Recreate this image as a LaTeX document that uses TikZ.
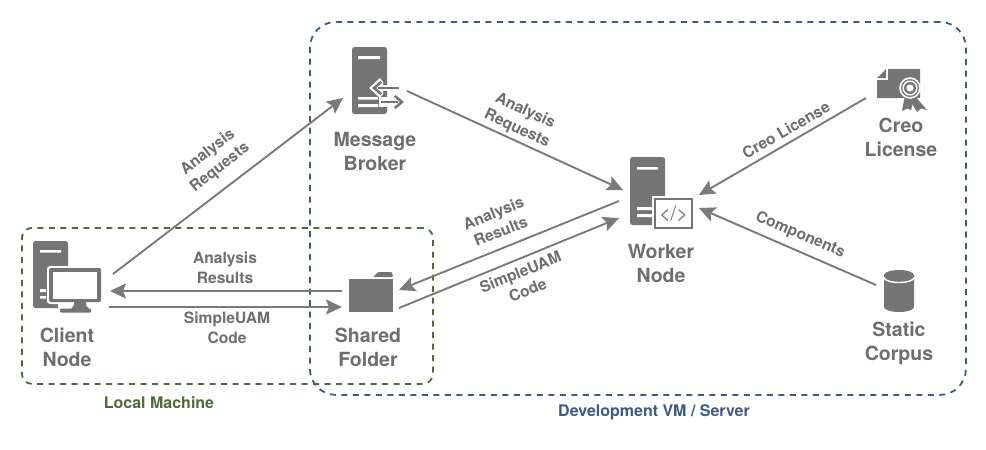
\documentclass[tikz,border=0pt]{standalone}
\usepackage{fontspec}
\setmainfont{TeX Gyre Heros}
\usetikzlibrary{arrows.meta,calc}
\definecolor{ig}{HTML}{757575}
\definecolor{lg}{HTML}{7A7A7A}
\definecolor{tg}{HTML}{6E6E6E}
\definecolor{gbox}{HTML}{4F6B3A}
\definecolor{bbox}{HTML}{3F5A80}
\tikzset{
 flow/.style={draw=lg,line width=1.9pt,-{Stealth[length=16pt,width=15pt,inset=3pt]}},
 iconbox/.style={inner sep=0pt,outer sep=0pt,draw=none},
 title/.style={text=tg,font=\fontsize{19.5}{24}\selectfont\bfseries,align=center,inner sep=0pt},
 edgelab/.style={text=tg,font=\fontsize{15.6}{19.5}\selectfont\bfseries,align=center,inner sep=0pt},
 grp/.style={line width=1.8pt,dash pattern=on 6pt off 5.5pt},
 grplab/.style={font=\fontsize{16}{19}\selectfont\bfseries,inner sep=0pt},
}
\begin{document}
\begin{tikzpicture}[x=1pt,y=-1pt]
\useasboundingbox[fill=white] (0,0) rectangle (986,450);
% groups
\node[grp,draw=gbox,rounded corners=10pt,minimum width=411pt,minimum height=156pt,inner sep=0pt,anchor=north west] (localbox) at (21,227) {};
\node[grp,draw=bbox,rounded corners=26pt,minimum width=656pt,minimum height=373pt,inner sep=0pt,anchor=north west] (devbox) at (309,21) {};
\node[grplab,text=gbox] (locallab) at (159,402.5) {Local Machine};
\node[grplab,text=bbox] (devlab) at (654,412.5) {Development VM / Server};
% anchors for icons
\node[iconbox,minimum width=68pt,minimum height=71pt] (client) at (67,276.5) {};
\node[iconbox,minimum width=52pt,minimum height=67pt] (broker) at (378,80.5) {};
\node[iconbox,minimum width=63pt,minimum height=72pt] (worker) at (661.5,193) {};
\node[iconbox,minimum width=50pt,minimum height=42pt] (license) at (902,90) {};
\node[iconbox,minimum width=44pt,minimum height=40pt] (folder) at (371,292) {};
\node[iconbox,minimum width=30pt,minimum height=42pt] (corpus) at (899,291) {};
% client icon
\fill[ig,rounded corners=2.5pt] (33,308) -- (33,241) -- (68,241) -- (68,308) -- cycle;
\fill[white] (40,250) rectangle (61,252.5) (40,289) rectangle (46,292) (40,296) rectangle (46,298.5);
\fill[white,rounded corners=3pt] (47,266) rectangle (103,304);
\fill[white] (58,303) rectangle (93,314);
\fill[ig,rounded corners=2pt] (49,268) rectangle (101,302);
\fill[white] (53,272) rectangle (97,299);
\fill[ig] (74,302) -- (86,302) -- (86,305) -- (89,309) -- (71,309) -- (74,305) -- cycle;
\fill[ig,rounded corners=1pt] (60,308.5) rectangle (91,312.5);
% broker icon
\fill[ig,rounded corners=2.5pt] (352,114) -- (352,47) -- (387,47) -- (387,114) -- cycle;
\fill[white] (358,56) rectangle (380,59) (358,97) rectangle (378,99.5) (358,104) rectangle (378,107);
\draw[white,line width=6pt] (377,88) -- (399,88);
\fill[white] (369,88) -- (380,78) -- (383,82) -- (383,94) -- (380,98) -- cycle;
\fill[white] (379,97) rectangle (398,107);
\fill[white] (396,93) -- (407,102) -- (396,111) -- cycle;
\draw[ig,line width=2pt] (378,88) -- (399,88);
\draw[ig,line width=2pt] (381,102) -- (398,102);
\fill[ig] (372,88) -- (380.5,81) -- (382,83) -- (376,88) -- (382,93) -- (380.5,95) -- cycle;
\fill[ig] (404,102) -- (395.5,95) -- (394,97) -- (400,102) -- (394,107) -- (395.5,109) -- cycle;
% worker icon
\fill[ig,rounded corners=2.5pt] (630,225) -- (630,157) -- (665,157) -- (665,225) -- cycle;
\fill[white] (637,167) rectangle (658,169.5) (637,207) rectangle (652,210) (637,214) rectangle (652,217);
\fill[white] (652,196) rectangle (695,231);
\node[iconbox,draw=ig,line width=2pt,fill=white,minimum width=37pt,minimum height=29pt,
 text=lg,font=\fontsize{20}{20}\selectfont] (code) at (673.5,213.5) {</>};
% license icon
\fill[ig] (888,69) -- (920,69) -- (920,98) -- (877,98) -- (877,80) -- (888,80) -- cycle;
\fill[ig] (877,78) -- (886,69) -- (886,78) -- cycle;
\fill[white] (898,98) -- (926,98) -- (931,113) -- (899,113) -- cycle;
\fill[ig] (905,95) -- (902,111) -- (907,108.5) -- (911,110) -- (915,96) -- cycle;
\fill[ig] (914,95) -- (927,110) -- (921,108.5) -- (917,112) -- (908,97) -- cycle;
\fill[white] (910,88) circle (10.8);
\fill[ig] (910,88) circle (9);
\fill[white] (910,88) circle (7.6);
\fill[ig] (910,88) circle (6);
\fill[white] (910,88) circle (3.6);
% folder icon
\fill[ig] (349,279) rectangle (393,312);
\fill[ig,rounded corners=1pt] (373,277) -- (378,272) -- (392,272) -- (393,277) -- cycle;
% cylinder icon
\fill[ig] (884,275) -- (884,307) arc[start angle=180,end angle=0,x radius=15,y radius=5] -- (914,275) arc[start angle=0,end angle=-180,x radius=15,y radius=5] -- cycle;
\draw[white,line width=1.4pt] (884,277.5) arc[start angle=180,end angle=0,x radius=15,y radius=5];
% titles
\node[title] (clientlab) at (67,347) {Client\\Node};
\node[title] (brokerlab) at (375,151) {Message\\Broker};
\node[title] (workerlab) at (661,263) {Worker\\Node};
\node[title] (licenselab) at (901,137) {Creo\\License};
\node[title] (folderlab) at (368,347) {Shared\\Folder};
\node[title] (corpuslab) at (899,343) {Static\\Corpus};
% connectors
\draw[flow] ([shift={(12,-2.5)}]client.east) -- ([shift={(-9,51)}]broker.west |- broker.north);
\draw[flow] ([shift={(3,10.5)}]broker.east) -- ([shift={(-7,-3)}]worker.west);
\draw[flow] ([shift={(-11,8)}]worker.west) -- ([shift={(50,-2)}]folder.west);
\draw[flow] ([shift={(50,16)}]folder.west) -- ([shift={(-11,25)}]worker.west);
\draw[flow] ([shift={(-7,-1)}]folder.west) -- ([shift={(9,14.5)}]client.east);
\draw[flow] ([shift={(8,30.5)}]client.east) -- ([shift={(-7,15)}]folder.west);
\draw[flow] ([shift={(-11,8)}]license.west) -- ([shift={(6,2)}]worker.east);
\draw[flow] ([shift={(-8,-6)}]corpus.west) -- ([shift={(6,15)}]worker.east);
% edge labels
\node[edgelab,rotate=38] (e1) at (214,160) {Analysis\\Requests};
\node[edgelab,rotate=-25] (e2) at (521,120) {Analysis\\Requests};
\node[edgelab,rotate=22] (e3) at (497,222) {Analysis\\Results};
\node[edgelab,rotate=22] (e4) at (524,281) {SimpleUAM\\Code};
\node[edgelab] (e5) at (225,268) {Analysis\\Results};
\node[edgelab] (e6) at (227,328) {SimpleUAM\\Code};
\node[edgelab,rotate=30] (e7) at (786,130) {Creo License};
\node[edgelab,rotate=-23] (e8) at (800,235) {Components};
\end{tikzpicture}
\end{document}
